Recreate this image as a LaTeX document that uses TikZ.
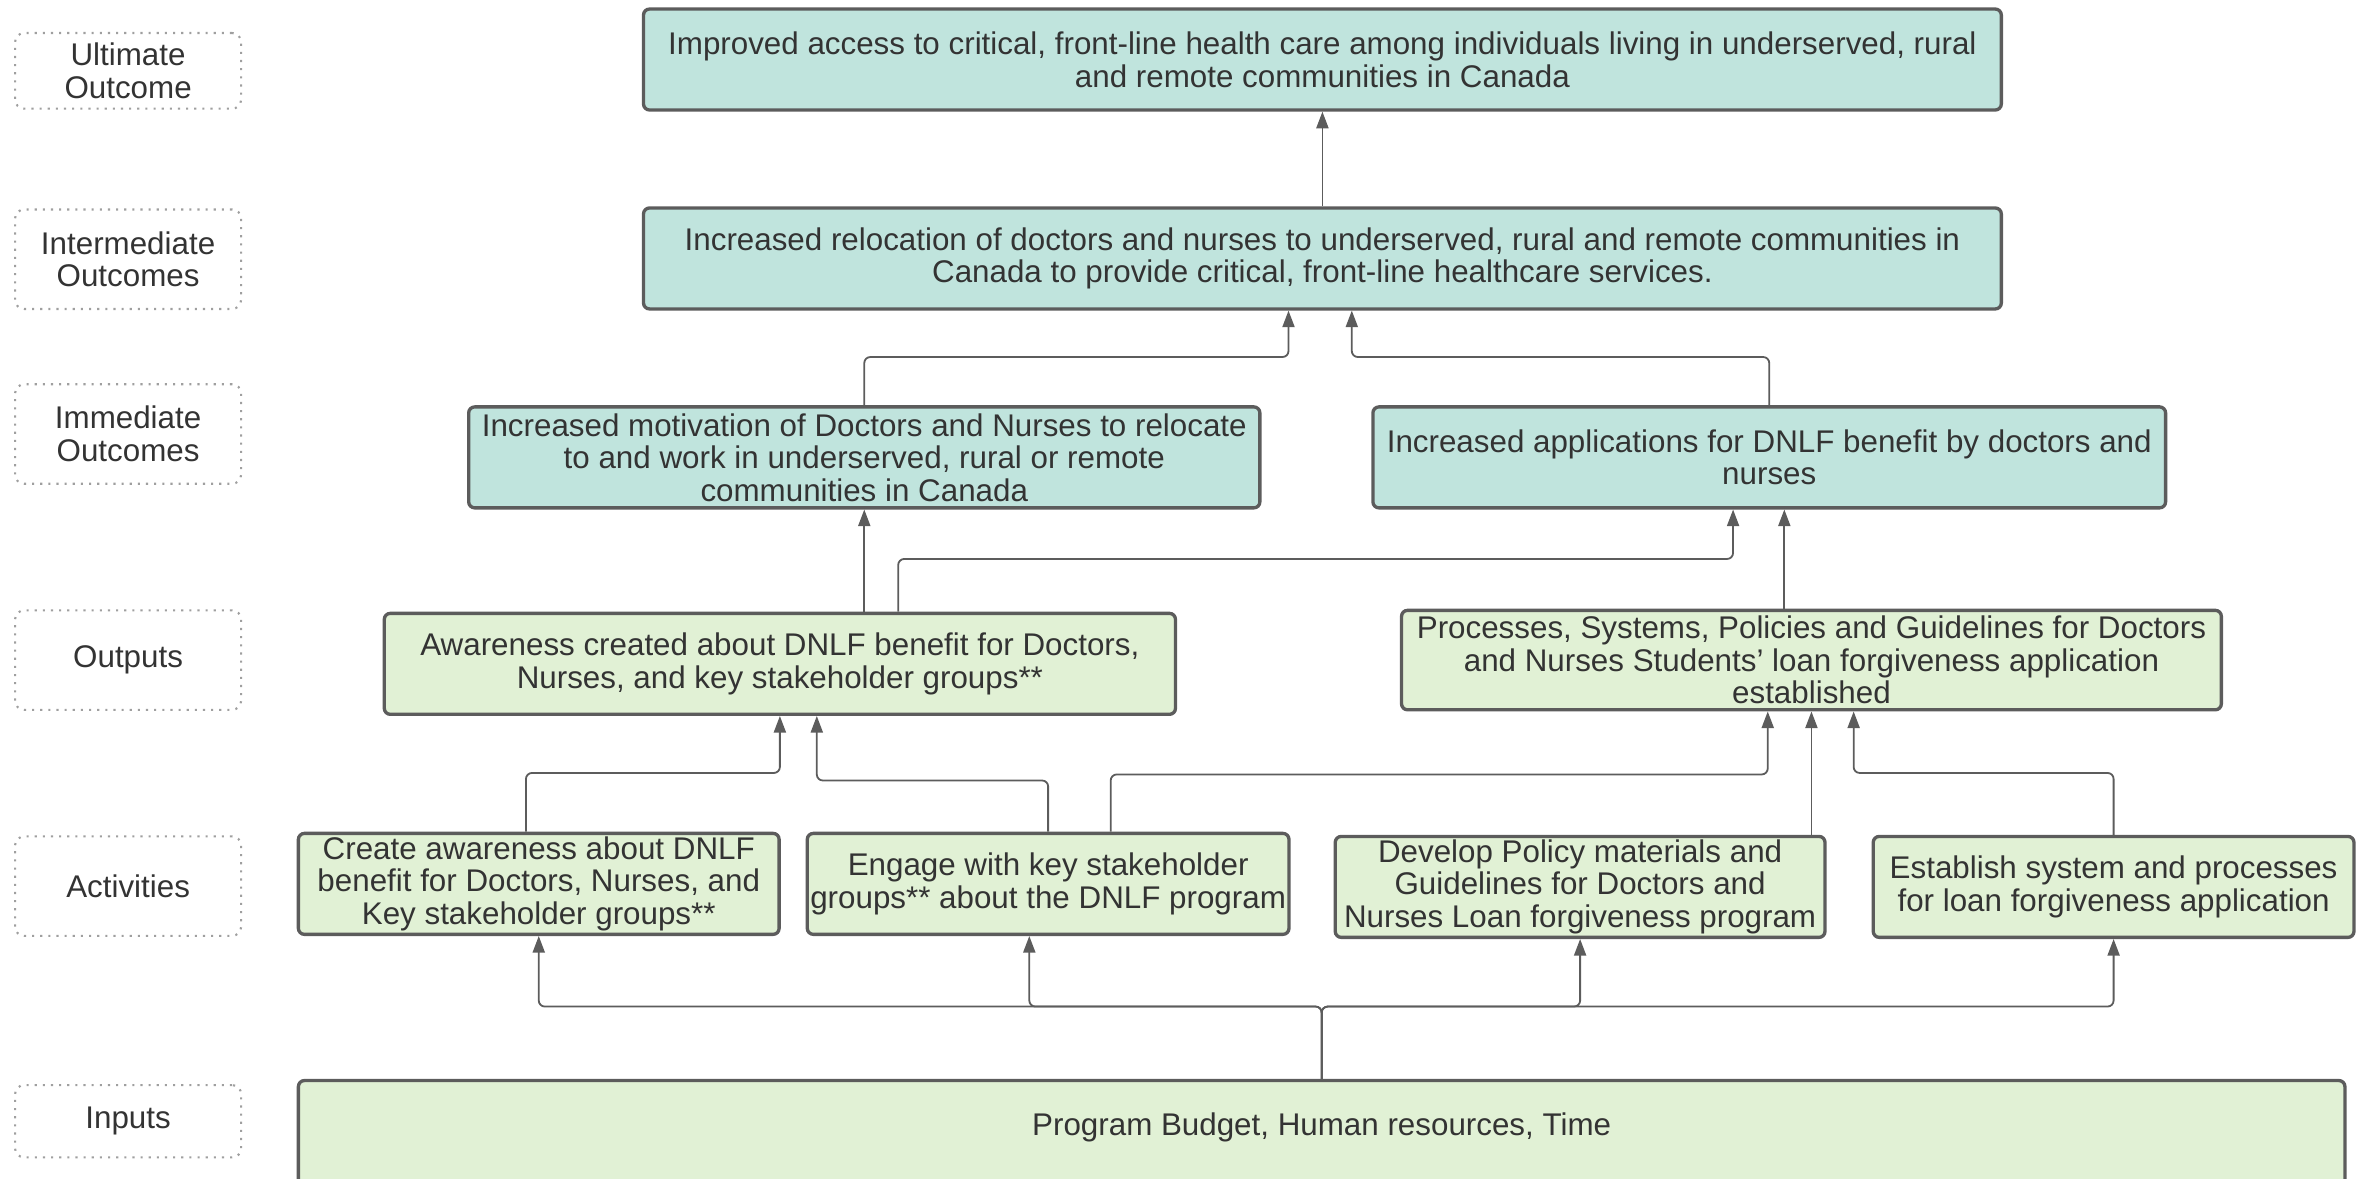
\documentclass[tikz,border=0pt]{standalone}
\usepackage{fontspec}
\setmainfont{Liberation Sans}
\usetikzlibrary{arrows.meta}
\definecolor{tealbox}{RGB}{192,228,221}
\definecolor{greenbox}{RGB}{225,241,213}
\definecolor{edgegray}{RGB}{92,92,92}
\definecolor{txtgray}{RGB}{51,51,51}

\begin{document}
\begin{tikzpicture}[x=0.5pt,y=-0.5pt,
        every node/.style={font=\fontsize{10.4}{10.8}\selectfont,text=txtgray},
        lvl/.style={draw=gray!75,dotted,line width=0.7pt,rounded corners=3pt,minimum width=75pt,align=center},
        box/.style={draw=edgegray,line width=1.1pt,rounded corners=2pt,align=center,inner xsep=1pt,inner ysep=1pt},
        outc/.style={box,fill=tealbox},
        actv/.style={box,fill=greenbox},
        conn/.style={draw=edgegray,line width=0.6pt,rounded corners=2pt,-{Triangle[length=5.5pt,width=4pt]}}]
        \useasboundingbox (0,0) rectangle (1568,782);

        % level labels
        \node[lvl,minimum height=25pt](lUlt) at (85,47){Ultimate\\Outcome};
        \node[lvl,minimum height=33pt](lInt) at (85,172){Intermediate\\Outcomes};
        \node[lvl,minimum height=33pt](lImm) at (85,288){Immediate\\Outcomes};
        \node[lvl,minimum height=33pt](lOut) at (85,438){Outputs};
        \node[lvl,minimum height=33pt](lAct) at (85,588){Activities};
        \node[lvl,minimum height=24pt](lInp) at (85,744){Inputs};

        % outcomes
        \node[outc,minimum width=450.5pt,minimum height=33.5pt](ult) at (877.5,39.5){Improved access to critical, front-line health care among individuals living in underserved, rural\\and remote communities in Canada};
        \node[outc,minimum width=450.5pt,minimum height=33.5pt](inter) at (877.5,171.5){Increased relocation of doctors and nurses to underserved, rural and remote communities in\\Canada to provide critical, front-line healthcare services.};
        \node[outc,minimum width=262.5pt,minimum height=33.5pt](immL) at (573.5,303.5){Increased motivation of Doctors and Nurses to relocate\\to and work in underserved, rural or remote\\communities in Canada};
        \node[outc,minimum width=263pt,minimum height=33.5pt](immR) at (1174,303.5){Increased applications for DNLF benefit by doctors and\\nurses};

        % outputs
        \node[actv,minimum width=262.5pt,minimum height=33.5pt](outL) at (517.5,440.5){Awareness created about DNLF benefit for Doctors,\\Nurses, and key stakeholder groups**};
        \node[actv,minimum width=272pt,minimum height=33pt](outR) at (1202,438){Processes, Systems, Policies and Guidelines for Doctors\\and Nurses Students' loan forgiveness application\\established};

        % activities
        \node[actv,minimum width=159.5pt,minimum height=33.5pt](act1) at (357.5,586.5){Create awareness about DNLF\\benefit for Doctors, Nurses, and\\Key stakeholder groups**};
        \node[actv,minimum width=159.5pt,minimum height=33.5pt](act2) at (695.5,586.5){Engage with key stakeholder\\groups** about the DNLF program};
        \node[actv,minimum width=162.5pt,minimum height=33.5pt](act3) at (1048.5,588.5){Develop Policy materials and\\Guidelines for Doctors and\\Nurses Loan forgiveness program};
        \node[actv,minimum width=159.5pt,minimum height=33.5pt](act4) at (1402.5,588.5){Establish system and processes\\for loan forgiveness application};

        % inputs
        \node[actv,minimum width=679pt,minimum height=44pt,text depth=15pt](inp) at (877,761){Program Budget, Human resources, Time};

        % links
        \draw[conn](inter.north)--(ult.south);
        \draw[conn](immL.north)--++(0,-32)-|([xshift=-11.25pt]inter.south);
        \draw[conn](immR.north)--++(0,-32)-|([xshift=9.75pt]inter.south);
        \draw[conn](immL.south|-outL.north)--(immL.south);
        \draw[conn]([xshift=39.25pt]outL.north)--++(0,-35)-|([xshift=-12pt]immR.south);
        \draw[conn]([xshift=-9pt]outR.north)--([xshift=5pt]immR.south);
        \draw[conn]([xshift=-4.25pt]act1.north)--++(0,-39)-|(outL.south);
        \draw[conn](act2.north)--++(0,-34)-|([xshift=12.25pt]outL.south);
        \draw[conn]([xshift=20.75pt]act2.north)--++(0,-38)-|([xshift=-14.5pt]outR.south);
        \draw[conn](outR.south|-act3.north)--(outR.south);
        \draw[conn](act4.north)--++(0,-41)-|([xshift=14pt]outR.south);

        \draw[conn](inp.north)--++(0,-48)-|(act1.south);
        \draw[conn](inp.north)--++(0,-48)-|([xshift=-6.25pt]act2.south);
        \draw[conn](inp.north)--++(0,-48)-|(act3.south);
        \draw[conn](inp.north)--++(0,-48)-|(act4.south);
    \end{tikzpicture}
\end{document}
